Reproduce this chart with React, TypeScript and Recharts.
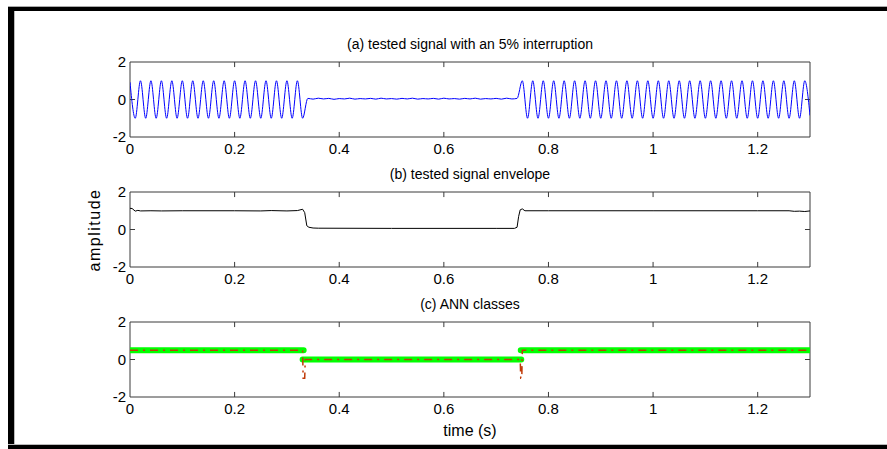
import { LineChart, Line, XAxis, YAxis, ReferenceArea, ReferenceLine } from 'recharts';

// time axis / amplitude axis
const xTicks = [0, 0.2, 0.4, 0.6, 0.8, 1, 1.2];
const yTicks = [-2, 0, 2];
const X_MAX = 1.3;

// (a) tested signal: extrema every 10 ms (50 Hz)
const SAMPLE_STEP = 0.01;
const preValues = [
  0.92, -1, 1, -1, 1, -1, 1, -1, 1, -1,
  1, -1, 1, -1, 1, -1, 1, -1, 1, -1,
  1, -1, 1, -1, 1, -1, 1, -1, 1, -1,
  1, -1, 1, -1,
];
const dipValues = [
  0.06, 0.02, 0.07, 0.03, 0.06, 0.01, 0.05, 0.03, 0.07, 0.02,
  0.05, 0.03, 0.06, 0.02, 0.07, 0.03, 0.05, 0.02, 0.06, 0.03,
  0.07, 0.02, 0.05, 0.03, 0.06, 0.02, 0.07, 0.03, 0.05, 0.02,
  0.06, 0.03, 0.07, 0.02, 0.05, 0.03, 0.06, 0.02, 0.07, 0.03,
  0.06,
];
const postValues = [
  1, -1, 1, -1, 1, -1, 1, -1, 1, -1,
  1, -1, 1, -1, 1, -1, 1, -1, 1, -1,
  1, -1, 1, -1, 1, -1, 1, -1, 1, -1,
  1, -1, 1, -1, 1, -1, 1, -1, 1, -1,
  1, -1, 1, -1, 1, -1, 1, -1, 1, -1,
  1, -1, 1, -1, 1, -0.85,
];

// (b) envelope
const envTime = [
  0, 0.004, 0.01, 0.015, 0.02, 0.04, 0.06, 0.1, 0.2, 0.25, 0.27, 0.3, 0.32, 0.33,
  0.334, 0.338, 0.342, 0.35, 0.36, 0.5, 0.7, 0.735, 0.74, 0.743, 0.746, 0.75, 0.755,
  0.8, 1.0, 1.2, 1.26, 1.27, 1.28, 1.29, 1.3,
];
const envValues = [
  1.13, 1.12, 0.98, 1.02, 0.99, 1.0, 0.99, 1.0, 1.0, 0.99, 1.01, 0.99, 1.01, 1.08,
  0.9, 0.2, 0.12, 0.08, 0.07, 0.06, 0.06, 0.06, 0.12, 0.7, 1.05, 1.1, 1.0,
  1.0, 1.0, 1.0, 1.0, 0.97, 0.98, 0.96, 0.99,
];

// (c) ANN classes: target (green) and output (red dash-dot)
const classTime = [0, 0.332, 0.333, 0.33, 0.748, 0.749, 0.747, 1.3];
const classValues = [0.5, 0.5, null, 0, 0, null, 0.5, 0.5];
const annTime = [0, 0.33, 0.331, 0.334, 0.335, 0.746, 0.747, 0.749, 0.75, 1.3];
const annValues = [0.5, 0.5, -1, -1, 0, 0, -1, -1, 0.5, 0.5];

const signalData = [...preValues, ...dipValues, ...postValues].map((v, i) => ({
  t: +(i * SAMPLE_STEP).toFixed(3),
  v,
}));
const envData = envTime.map((t, i) => ({ t, v: envValues[i] }));
const classData = classTime.map((t, i) => ({ t, v: classValues[i] }));
const annData = annTime.map((t, i) => ({ t, v: annValues[i] }));

const FONT = '"Liberation Sans", Arial, sans-serif';
const AXIS = '#3a3a3a';
const tickStyle = { fontSize: 15, fill: '#000', fontFamily: FONT };

function frame() {
  const items = [
    <ReferenceArea key="box" x1={0} x2={X_MAX} y1={-2} y2={2} fill="none" fillOpacity={0} stroke={AXIS} strokeWidth={1} ifOverflow="visible" />,
    <ReferenceLine key="yl" segment={[{ x: 0, y: 0 }, { x: 0.0096, y: 0 }]} stroke={AXIS} ifOverflow="visible" />,
    <ReferenceLine key="yr" segment={[{ x: X_MAX, y: 0 }, { x: X_MAX - 0.0096, y: 0 }]} stroke={AXIS} ifOverflow="visible" />,
  ];
  xTicks.slice(1).forEach((x) => {
    items.push(<ReferenceLine key={`t${x}`} segment={[{ x, y: 2 }, { x, y: 1.73 }]} stroke={AXIS} ifOverflow="visible" />);
    items.push(<ReferenceLine key={`b${x}`} segment={[{ x, y: -2 }, { x, y: -1.73 }]} stroke={AXIS} ifOverflow="visible" />);
  });
  return items;
}

function axes() {
  return [
    <XAxis
      key="x"
      dataKey="t"
      type="number"
      domain={[0, X_MAX]}
      ticks={xTicks}
      allowDataOverflow
      axisLine={false}
      tickLine={false}
      tickSize={0}
      tickMargin={6}
      height={30}
      tick={tickStyle}
      interval={0}
    />,
    <YAxis
      key="y"
      type="number"
      domain={[-2, 2]}
      ticks={yTicks}
      allowDataOverflow
      axisLine={false}
      tickLine={false}
      tickSize={0}
      tickMargin={4}
      width={130}
      tick={tickStyle}
      interval={0}
    />,
  ];
}

const chartMargin = { top: 20, right: 77, bottom: 5, left: 0 };

const titleStyle = (top: number) => ({
  position: 'absolute' as const,
  top,
  left: 470,
  transform: 'translate(-50%, -50%)',
  fontFamily: FONT,
  fontSize: 14,
  whiteSpace: 'nowrap' as const,
  color: '#000',
});

export default function App() {
  return (
    <div style={{ position: 'absolute', left: 0, top: 0, width: 887, height: 449, background: '#fff', overflow: 'hidden' }}>
      {/* outer frame */}
      <div style={{ position: 'absolute', left: 8, top: 6, width: 879, height: 1, background: '#aaa' }} />
      <div style={{ position: 'absolute', left: 8, top: 7, width: 879, height: 4, background: '#000' }} />
      <div style={{ position: 'absolute', left: 8, top: 7, width: 6, height: 442, background: '#000' }} />
      <div style={{ position: 'absolute', left: 14, top: 11, width: 1, height: 434, background: '#bbb' }} />
      <div style={{ position: 'absolute', left: 8, top: 444, width: 879, height: 1, background: '#bbb' }} />
      <div style={{ position: 'absolute', left: 8, top: 445, width: 879, height: 4, background: '#000' }} />

      <div style={titleStyle(44)}>(a) tested signal with an 5% interruption</div>
      <div style={titleStyle(174)}>(b) tested signal envelope</div>
      <div style={titleStyle(304)}>(c) ANN classes</div>

      <div style={{ position: 'absolute', left: 0, top: 42 }}>
        <LineChart width={887} height={130} margin={chartMargin}>
          {axes()}
          {frame()}
          <Line data={signalData} dataKey="v" type="monotone" stroke="#0000ff" strokeWidth={1} dot={false} isAnimationActive={false} />
        </LineChart>
      </div>

      <div style={{ position: 'absolute', left: 0, top: 172 }}>
        <LineChart width={887} height={130} margin={chartMargin}>
          {axes()}
          {frame()}
          <Line data={envData} dataKey="v" type="linear" stroke="#000" strokeWidth={1} dot={false} isAnimationActive={false} />
        </LineChart>
      </div>

      <div style={{ position: 'absolute', left: 0, top: 302 }}>
        <LineChart width={887} height={130} margin={chartMargin}>
          {axes()}
          {frame()}
          <Line data={classData} dataKey="v" type="linear" stroke="#00ff00" strokeWidth={6} strokeLinecap="round" connectNulls={false} dot={false} isAnimationActive={false} />
          <Line data={annData} dataKey="v" type="linear" stroke="#c03a08" strokeWidth={1.5} strokeDasharray="8 5 2 5" dot={false} isAnimationActive={false} />
        </LineChart>
      </div>

      <div
        style={{
          position: 'absolute',
          left: 95,
          top: 230,
          transform: 'translate(-50%, -50%) rotate(-90deg)',
          fontFamily: FONT,
          fontSize: 16,
          letterSpacing: 1.5,
          whiteSpace: 'nowrap',
        }}
      >
        amplitude
      </div>
      <div style={{ ...titleStyle(431), fontSize: 16 }}>time (s)</div>
    </div>
  );
}
